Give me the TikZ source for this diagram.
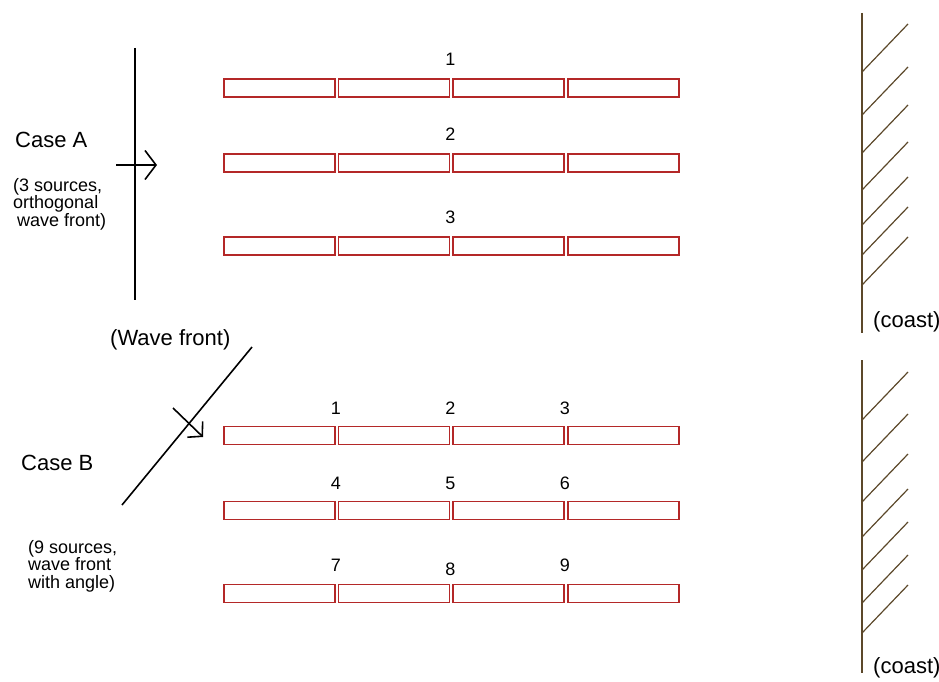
\documentclass[tikz,border=0pt]{standalone}
\usepackage{fontspec}
\setmainfont{Liberation Sans}
\usetikzlibrary{positioning, arrows.meta}
\definecolor{boxred}{RGB}{180,40,40}
\definecolor{coastbrown}{RGB}{92,72,42}

\begin{document}
\begin{tikzpicture}[x=1pt,y=-1pt,
    cell/.style={draw=boxred,line width=1.8pt,minimum width=111pt,minimum height=18pt,inner sep=0pt},
    lbl/.style={font=\fontsize{22}{24}\selectfont,inner sep=0pt},
    num/.style={font=\fontsize{18}{20}\selectfont,inner sep=0pt},
    note/.style={font=\fontsize{18}{17.5}\selectfont,align=left,inner sep=0pt},
    front/.style={line width=1.6pt},
    shore/.style={draw=coastbrown,line width=1.6pt}]
    \useasboundingbox (0,0) rectangle (939,682);
    % breakwater rows
    \foreach \r/\y in {a1/88, a2/163, a3/246, b1/435.5, b2/510.5, b3/593.5}
        \foreach \c/\x in {1/279.5, 2/394, 3/508.5, 4/623.5}
            \node[cell] (\r-\c) at (\x,\y) {};
    % case A
    \node[num, above=12pt of a1-2.north east] (s1) {1};
    \node[num, above=12pt of a2-2.north east] (s2) {2};
    \node[num, above=12pt of a3-2.north east] (s3) {3};
    \coordinate (wfa-top) at (135,48);
    \coordinate (wfa-bot) at (135,300);
    \coordinate (arra-s) at (116,165);
    \coordinate (arra-e) at (157,165);
    \draw[front] (wfa-top) -- (wfa-bot);
    \draw[front,-{Straight Barb[length=11pt,width=29pt]}] (arra-s) -- (arra-e);
    \node[lbl, anchor=west] (casea) at (15,140) {Case A};
    \node[note, anchor=north west] (notea) at (13,178) {(3 sources,\\orthogonal\\\hspace*{4pt}wave front)};
    % case B
    \foreach \r/\a/\b/\c in {b1/1/2/3, b2/4/5/6}{
        \node[num, above=11pt of \r-1.north east] (\r-n1) {\a};
        \node[num, above=11pt of \r-2.north east] (\r-n2) {\b};
        \node[num, above=11pt of \r-3.north east] (\r-n3) {\c};
    }
    \node[num, above=12pt of b3-1.north east] (b3-n1) {7};
    \node[num, above=8pt of b3-2.north east] (b3-n2) {8};
    \node[num, above=12pt of b3-3.north east] (b3-n3) {9};
    \coordinate (wfb-top) at (252,347);
    \coordinate (wfb-bot) at (122,505);
    \coordinate (arrb-s) at (173,408);
    \coordinate (arrb-e) at (203,437);
    \draw[front] (wfb-top) -- (wfb-bot);
    \draw[front,-{Straight Barb[length=10pt,width=22pt]}] (arrb-s) -- (arrb-e);
    \node[lbl, anchor=west] (wflabel) at (110,340) {(Wave front)};
    \node[lbl, anchor=west] (caseb) at (21,463) {Case B};
    \node[note, anchor=north west] (noteb) at (28,540) {(9 sources,\\wave front\\with angle)};
    % coast
    \draw[shore] (862,13) -- (862,333);
    \foreach \y in {72,115,153,190,225,255,285}
        \draw[shore,line width=1.2pt] (862,\y) -- ++(46,-48);
    \node[lbl, anchor=west] (coasta) at (873,322) {(coast)};
    \draw[shore] (862,360) -- (862,673);
    \foreach \y in {420,462,502,537,570,603,633}
        \draw[shore,line width=1.2pt] (862,\y) -- ++(46,-48);
    \node[lbl, anchor=west] (coastb) at (873,668) {(coast)};
\end{tikzpicture}
\end{document}
